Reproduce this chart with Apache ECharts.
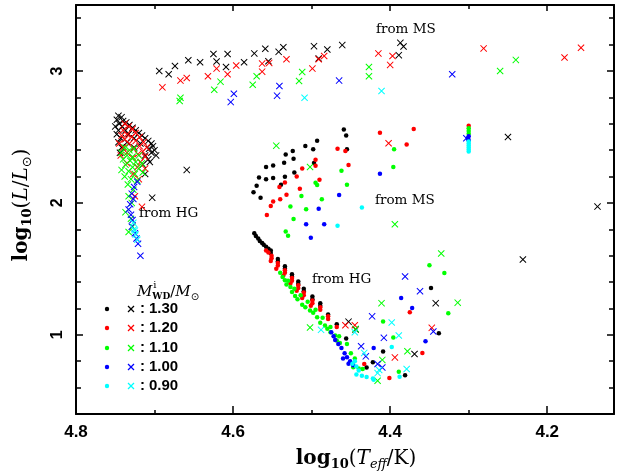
<!DOCTYPE html>
<html>
<head>
<meta charset="utf-8">
<script src="https://cdn.jsdelivr.net/npm/echarts@6/dist/echarts.min.js"></script>
<style>
html, body { margin: 0; padding: 0; background: #ffffff; }
#chart { width: 618px; height: 475px; }
</style>
</head>
<body>
<div id="chart"></div>
<script>
// Initial white-dwarf masses and their colours
const massLabels = ['1.30', '1.20', '1.10', '1.00', '0.90'];
const massColors = ['#000000', '#ff0000', '#00ff00', '#0000ff', '#00ffff'];

// [log10(Teff/K), log10(L/Lsun)] — dots
const dots130 = [
  [4.533,2.366],[4.535,2.305],[4.549,2.284],[4.558,2.272],[4.549,2.188],[4.558,2.180],[4.567,2.193],[4.570,2.130],
  [4.574,2.081],[4.565,2.040],[4.539,2.137],[4.534,2.198],[4.524,2.394],[4.523,2.335],[4.522,2.231],[4.508,2.432],
  [4.498,2.406],[4.493,2.472],[4.497,2.302],[4.459,2.556],[4.456,2.510],[4.455,2.406],
  [4.573,1.770],[4.571,1.750],[4.568,1.730],[4.566,1.712],[4.563,1.697],[4.561,1.682],[4.558,1.667],[4.555,1.652],
  [4.552,1.640],[4.552,1.620],[4.543,1.575],[4.543,1.555],[4.534,1.520],[4.534,1.500],[4.525,1.460],[4.525,1.440],
  [4.517,1.405],[4.517,1.385],[4.510,1.350],[4.510,1.330],[4.499,1.290],[4.499,1.270],[4.489,1.240],[4.489,1.220],
  [4.479,1.155],[4.468,1.080],[4.456,0.972],
  [4.409,0.873],[4.422,0.792],[4.430,0.753],[4.381,0.693],[4.338,1.012],[4.348,1.355]
];
const dots120 = [
  [4.541,2.120],[4.532,2.061],[4.540,2.028],[4.549,2.010],[4.552,1.977],[4.557,1.909],[4.534,2.155],[4.519,2.200],
  [4.515,2.107],[4.512,2.261],[4.490,2.175],[4.495,2.328],[4.495,2.282],[4.467,2.411],[4.457,2.394],[4.453,2.287],
  [4.413,2.531],[4.379,2.442],[4.370,2.561],[4.300,2.585],
  [4.558,1.640],[4.555,1.625],[4.551,1.600],[4.551,1.580],[4.552,1.560],[4.543,1.545],[4.543,1.525],[4.545,1.500],
  [4.534,1.490],[4.534,1.470],[4.536,1.450],[4.525,1.430],[4.525,1.410],[4.527,1.390],[4.517,1.375],[4.517,1.355],
  [4.519,1.335],[4.510,1.320],[4.510,1.300],[4.512,1.280],[4.499,1.260],[4.499,1.240],[4.501,1.220],[4.489,1.210],
  [4.489,1.190],[4.479,1.140],[4.479,1.120],[4.468,1.060],
  [4.375,1.172],[4.359,0.863],[4.401,0.673],[4.433,0.779]
];
const dots110 = [
  [4.395,2.406],[4.396,2.272],[4.462,2.244],[4.455,2.137],[4.493,2.135],[4.495,2.152],[4.487,2.028],[4.513,2.053],
  [4.527,1.972],[4.507,1.952],[4.523,1.878],[4.533,1.784],[4.530,1.751],
  [4.300,2.565],[4.300,2.545],[4.300,2.525],
  [4.537,1.439],[4.534,1.413],[4.532,1.381],[4.527,1.362],[4.525,1.324],[4.521,1.294],[4.518,1.269],[4.512,1.229],
  [4.508,1.210],[4.502,1.185],[4.498,1.168],[4.493,1.134],[4.489,1.091],[4.483,1.071],[4.480,1.046],[4.476,1.020],
  [4.470,0.995],[4.468,0.957],[4.464,0.939],[4.540,1.470],[4.530,1.410],[4.522,1.350],[4.514,1.300],[4.505,1.250],
  [4.495,1.190],[4.486,1.130],[4.476,1.060],[4.465,0.990],[4.455,0.930],[4.450,0.860],[4.445,0.820],[4.447,0.755],
  [4.440,0.745],
  [4.409,1.101],[4.396,0.979],[4.389,0.720],[4.435,0.741],[4.326,1.164],[4.350,1.528],[4.331,1.469]
];
const dots100 = [
  [4.413,2.221],[4.465,2.059],[4.491,1.955],[4.507,1.838],[4.484,1.838],[4.501,1.736],
  [4.300,2.505],[4.301,2.490],[4.300,2.475],
  [4.475,1.020],[4.472,0.990],[4.470,0.960],[4.466,0.930],[4.462,0.900],[4.460,0.820],[4.458,0.860],[4.455,0.830],
  [4.453,0.780],[4.451,0.800],[4.447,0.770],
  [4.386,1.279],[4.372,1.203],[4.355,0.951],[4.421,0.901]
];
const dots090 = [
  [4.436,1.965],[4.467,1.826],
  [4.300,2.465],[4.300,2.450],[4.300,2.435],[4.300,2.420],[4.300,2.405],[4.300,2.390],
  [4.445,0.800],[4.443,0.760],[4.443,0.700],[4.436,0.690],[4.440,0.730],[4.448,0.780],[4.421,0.660],[4.388,0.683],
  [4.398,0.908],[4.430,0.680],[4.422,0.670]
];

// [log10(Teff/K), log10(L/Lsun)] — crosses
const crosses130 = [
  [4.694,3.000],[4.682,2.975],[4.674,3.038],[4.657,3.081],[4.642,3.066],[4.625,3.129],[4.621,3.072],[4.607,3.129],
  [4.609,3.030],[4.586,3.066],[4.573,3.133],[4.559,3.168],[4.555,3.074],[4.542,3.145],[4.536,3.180],[4.497,3.188],
  [4.491,3.094],[4.480,3.163],[4.461,3.196],[4.387,3.213],[4.383,3.186],[4.389,3.120],
  [4.746,2.66],[4.742,2.65],[4.748,2.63],[4.740,2.62],[4.745,2.60],[4.736,2.61],[4.750,2.58],[4.741,2.58],
  [4.732,2.59],[4.728,2.57],[4.746,2.55],[4.737,2.55],[4.724,2.55],[4.720,2.53],[4.748,2.52],[4.733,2.52],
  [4.716,2.51],[4.712,2.49],[4.743,2.49],[4.726,2.49],[4.708,2.47],[4.704,2.45],[4.746,2.46],[4.735,2.46],
  [4.718,2.45],[4.702,2.43],[4.707,2.41],[4.742,2.42],[4.726,2.42],[4.704,2.38],[4.712,2.36],[4.744,2.38],
  [4.708,2.33],[4.715,2.29],[4.712,2.22],[4.700,2.40],[4.698,2.36],[4.706,2.31],
  [4.659,2.25],[4.703,2.04],
  [4.250,2.500],[4.136,1.972],[4.231,1.571],
  [4.342,1.240],[4.453,1.100],[4.369,0.855],[4.444,1.040]
];
const crosses120 = [
  [4.690,2.876],[4.667,2.927],[4.659,2.947],[4.632,2.960],[4.621,3.018],[4.607,2.975],[4.596,3.041],[4.563,3.056],
  [4.554,3.061],[4.563,2.995],[4.532,3.089],[4.499,3.018],[4.491,3.089],[4.484,3.114],[4.415,3.133],[4.397,3.114],
  [4.400,3.046],[4.281,3.171],[4.178,3.102],[4.157,3.176],
  [4.402,2.452],
  [4.738,2.60],[4.733,2.58],[4.728,2.56],[4.740,2.55],[4.724,2.53],[4.735,2.52],[4.742,2.51],[4.729,2.50],
  [4.719,2.50],[4.738,2.48],[4.724,2.47],[4.714,2.46],[4.745,2.45],[4.732,2.45],[4.719,2.43],[4.710,2.42],
  [4.740,2.42],[4.727,2.41],[4.715,2.39],[4.735,2.38],[4.721,2.37],[4.743,2.36],[4.712,2.35],[4.728,2.34],
  [4.718,2.31],[4.735,2.30],[4.722,2.27],[4.712,2.26],[4.727,2.22],[4.720,2.18],[4.725,2.05],[4.716,1.97],
  [4.457,1.073],[4.445,1.073],[4.347,1.053],[4.394,0.829]
];
const crosses110 = [
  [4.667,2.797],[4.668,2.772],[4.616,2.919],[4.624,2.858],[4.570,2.960],[4.575,2.896],[4.512,2.992],[4.516,2.924],
  [4.427,3.030],[4.427,2.960],[4.240,3.084],[4.260,3.000],
  [4.545,2.434],[4.502,2.272],[4.394,1.838],[4.335,1.617],
  [4.738,2.42],[4.732,2.40],[4.726,2.41],[4.742,2.38],[4.735,2.36],[4.728,2.35],[4.720,2.36],[4.740,2.33],
  [4.731,2.32],[4.724,2.31],[4.716,2.30],[4.737,2.29],[4.728,2.27],[4.720,2.26],[4.742,2.25],[4.733,2.24],
  [4.725,2.22],[4.715,2.23],[4.738,2.20],[4.730,2.18],[4.722,2.17],[4.734,2.14],[4.727,2.10],[4.733,2.05],
  [4.729,2.00],[4.737,1.93],[4.730,1.88],[4.728,1.82],[4.733,1.78],
  [4.411,1.240],[4.314,1.244],[4.378,0.876],[4.502,1.056],[4.444,1.045],[4.410,0.810],[4.416,0.652]
];
const crosses100 = [
  [4.599,2.827],[4.603,2.764],[4.541,2.886],[4.544,2.813],[4.465,2.927],[4.321,2.975],
  [4.303,2.490],
  [4.722,2.16],[4.726,2.12],[4.729,2.07],[4.727,2.03],[4.731,1.99],[4.733,1.95],[4.730,1.91],[4.728,1.87],
  [4.729,1.82],[4.725,1.77],[4.723,1.73],[4.721,1.69],[4.718,1.60],
  [4.381,1.442],[4.362,1.330],[4.423,1.140],[4.408,0.977],[4.345,1.025],[4.437,0.913],[4.431,0.837],[4.416,0.779],
  [4.410,0.753]
];
const crosses090 = [
  [4.509,2.797],[4.411,2.848],
  [4.727,1.85],[4.726,1.80],[4.724,1.76],[4.722,1.72],[4.725,1.79],
  [4.398,1.094],[4.389,0.995],[4.488,1.038],[4.433,0.863],[4.414,0.733],[4.379,0.741],[4.416,0.710],[4.445,1.020]
];

const dotSets = [dots130, dots120, dots110, dots100, dots090];
const crossSets = [crosses130, crosses120, crosses110, crosses100, crosses090];

// Axis ranges and ticks
const X_MIN = 4.115, X_MAX = 4.8;
const Y_MIN = 0.4, Y_MAX = 3.5;
const xMajorTicks = [4.2, 4.4, 4.6, 4.8];
const xMinorTicks = [4.3, 4.5, 4.7];
const yMajorTicks = [1, 2, 3];
const yMinorTicks = [0.4, 0.6, 0.8, 1.2, 1.4, 1.6, 1.8, 2.2, 2.4, 2.6, 2.8, 3.2, 3.4];

// Annotations: [text, x, y] in pixels
const notes = [
  ['from MS', 376, 29],
  ['from MS', 375, 200],
  ['from HG', 139, 213],
  ['from HG', 312, 279]
];

const CROSS = 'path://M1,0L5,4L9,0L10,1L6,5L10,9L9,10L5,6L1,10L0,9L4,5L0,1Z';
const SERIF = "'DejaVu Serif', serif";
const SANS = "'Liberation Sans', Arial, sans-serif";

const ctx = document.createElement('canvas').getContext('2d');
function fontOf(s) {
  return (s.style || 'normal') + ' ' + (s.weight || 'normal') + ' ' + s.size + 'px ' + (s.family || SERIF);
}
// Lays out a run of differently styled text pieces along one baseline
function textRun(segs, cx, cy, rotation, anchor) {
  const widths = segs.map(s => {
    ctx.font = fontOf(s);
    return s.zero ? 0 : ctx.measureText(s.t).width + (s.gap || 0);
  });
  const total = widths.reduce((a, b) => a + b, 0);
  let x = anchor === 'left' ? 0 : (anchor === 'center1' ? -widths[0] / 2 : -total / 2);
  const children = segs.map((s, i) => {
    const el = {
      type: 'text', x: x + (s.dx || 0), y: s.dy || 0, silent: true,
      style: { text: s.t, font: fontOf(s), fill: s.color || '#000',
               textAlign: 'left', textVerticalAlign: 'middle', align: 'left', verticalAlign: 'middle' }
    };
    x += widths[i];
    return el;
  });
  return { type: 'group', x: cx, y: cy, rotation: rotation || 0, children: children, silent: true };
}

const graphics = [];
notes.forEach(n => graphics.push(textRun([{ t: n[0], size: 13.5 }], n[1], n[2], 0, 'left')));

// x-axis title: log10(Teff/K)
graphics.push(textRun([
  { t: 'log', size: 20, weight: 'bold' },
  { t: '10', size: 13, weight: 'bold', dy: 6 },
  { t: '(', size: 20 },
  { t: 'T', size: 20, style: 'italic' },
  { t: 'eff', size: 13, style: 'italic', dy: 6 },
  { t: '/K)', size: 20 }
], 356, 459, 0));

// y-axis title: log10(L/Lsun)
graphics.push(textRun([
  { t: 'log', size: 20, weight: 'bold' },
  { t: '10', size: 13, weight: 'bold', dy: 6 },
  { t: '(', size: 20 },
  { t: 'L', size: 20, style: 'italic' },
  { t: '/', size: 20 },
  { t: 'L', size: 20, style: 'italic' },
  { t: '\u2299', size: 13, dy: 6, family: "'DejaVu Sans', sans-serif" },
  { t: ')', size: 20 }
], 22, 205, Math.PI / 2));

// Legend title: M^i_WD / Msun
graphics.push(textRun([
  { t: 'M', size: 15, style: 'italic' },
  { t: 'i', size: 10, dy: -7, dx: 1, zero: true },
  { t: 'WD', size: 9, weight: 'bold', dy: 5 },
  { t: '/', size: 15 },
  { t: 'M', size: 15, style: 'italic' },
  { t: '\u2299', size: 10, dy: 5, family: "'DejaVu Sans', sans-serif" }
], 137, 292, 0, 'left'));

// Legend rows
const legendRowsY = [309, 328, 348, 367, 386];
massLabels.forEach((m, i) => {
  const y = legendRowsY[i];
  graphics.push({ type: 'circle', silent: true, shape: { cx: 107, cy: y, r: 2.2 }, style: { fill: massColors[i] } });
  graphics.push({ type: 'line', silent: true, shape: { x1: 128, y1: y - 3, x2: 134, y2: y + 3 }, style: { stroke: massColors[i], lineWidth: 1.2 } });
  graphics.push({ type: 'line', silent: true, shape: { x1: 128, y1: y + 3, x2: 134, y2: y - 3 }, style: { stroke: massColors[i], lineWidth: 1.2 } });
  graphics.push(textRun([{ t: ':', size: 15, weight: 'bold', family: SANS }], 140, y, 0, 'left'));
  graphics.push(textRun([{ t: m, size: 15, weight: 'bold', family: SANS }], 149, y, 0, 'left'));
});

function xAxisDef(position, ticks, len, showLine) {
  return {
    type: 'value', position: position, inverse: true, min: X_MIN, max: X_MAX,
    axisLine: { show: showLine, onZero: false, lineStyle: { color: '#000', width: 2 } },
    axisTick: { show: true, inside: true, length: len, customValues: ticks, lineStyle: { color: '#000', width: 1.5 } },
    axisLabel: { show: false },
    splitLine: { show: false }, minorTick: { show: false }
  };
}
function yAxisDef(position, ticks, len, showLine, showLabel) {
  return {
    type: 'value', position: position, min: Y_MIN, max: Y_MAX,
    axisLine: { show: showLine, onZero: false, lineStyle: { color: '#000', width: 2 } },
    axisTick: { show: true, inside: true, length: len, customValues: ticks, lineStyle: { color: '#000', width: 1.5 } },
    axisLabel: showLabel ? {
      show: true, customValues: ticks, rotate: 90, margin: 10,
      color: '#000', fontFamily: SANS, fontWeight: 'bold', fontSize: 16
    } : { show: false },
    splitLine: { show: false }, minorTick: { show: false }
  };
}

const series = [];
massLabels.forEach((m, i) => {
  series.push({
    name: m + ' dots', type: 'scatter', xAxisIndex: 0, yAxisIndex: 0,
    data: dotSets[i], symbol: 'circle', symbolSize: 4.5,
    itemStyle: { color: massColors[i], opacity: 1 }, silent: true
  });
  series.push({
    name: m + ' crosses', type: 'scatter', xAxisIndex: 0, yAxisIndex: 0,
    data: crossSets[i], symbol: CROSS, symbolSize: 7,
    itemStyle: { color: massColors[i], opacity: 1 }, silent: true
  });
});

const chart = echarts.init(document.getElementById('chart'), null, { renderer: 'canvas' });
chart.setOption({
  animation: false,
  backgroundColor: '#ffffff',
  grid: { left: 76, right: 4, top: 5, bottom: 61, containLabel: false, outerBoundsMode: 'none' },
  xAxis: [
    xAxisDef('bottom', xMajorTicks, 8, true),
    xAxisDef('bottom', xMinorTicks, 4, false),
    xAxisDef('top', xMajorTicks, 6, true),
    xAxisDef('top', xMinorTicks, 4, false)
  ],
  yAxis: [
    yAxisDef('left', yMajorTicks, 7, true, true),
    yAxisDef('left', yMinorTicks, 5, false, false),
    yAxisDef('right', yMajorTicks, 7, true, false),
    yAxisDef('right', yMinorTicks, 5, false, false)
  ],
  series: series
});

// x tick labels placed through the axis scale, below the frame
const xAxisBottom = chart.convertToPixel({ yAxisIndex: 0 }, Y_MIN);
xMajorTicks.forEach(v => {
  graphics.push({
    type: 'text', silent: true,
    x: chart.convertToPixel({ xAxisIndex: 0 }, v), y: xAxisBottom + 18,
    style: { text: v.toFixed(1), font: 'bold 17px ' + SANS, fill: '#000',
             textAlign: 'center', textVerticalAlign: 'middle', align: 'center', verticalAlign: 'middle' }
  });
});
chart.setOption({ graphic: graphics });
</script>
</body>
</html>
